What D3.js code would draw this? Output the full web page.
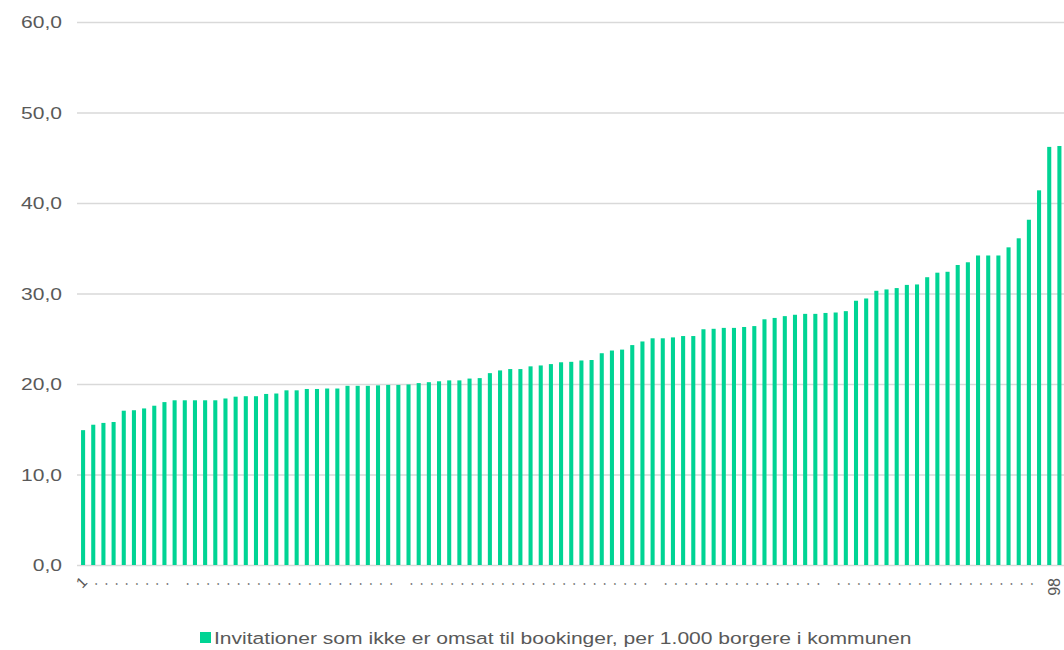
<!DOCTYPE html>
<html>
<head>
<meta charset="utf-8">
<script src="https://cdn.jsdelivr.net/npm/d3@7"></script>
<style>
  body { margin: 0; background: #fff; }
  text { font-family: "Liberation Sans", Arial, sans-serif; fill: #595959; }
</style>
</head>
<body>
<script>
// kommuner sorted by value, rank 1..98 (the last bar falls just outside the picture)
const categories = d3.range(1, 99);
const values = [
  14.9, 15.5, 15.7, 15.8, 17.05, 17.1, 17.3, 17.6, 18.0, 18.2,
  18.2, 18.2, 18.2, 18.2, 18.4, 18.6, 18.65, 18.65, 18.9, 18.95,
  19.3, 19.3, 19.45, 19.45, 19.5, 19.5, 19.8, 19.8, 19.8, 19.85,
  19.9, 19.9, 19.95, 20.1, 20.2, 20.3, 20.4, 20.4, 20.6, 20.65,
  21.2, 21.5, 21.65, 21.65, 21.95, 22.05, 22.2, 22.4, 22.45, 22.6,
  22.65, 23.4, 23.7, 23.8, 24.3, 24.7, 25.05, 25.05, 25.15, 25.3,
  25.3, 26.05, 26.1, 26.2, 26.2, 26.3, 26.4, 27.15, 27.3, 27.5,
  27.65, 27.75, 27.75, 27.85, 27.9, 28.05, 29.2, 29.45, 30.3, 30.45,
  30.6, 30.95, 31.0, 31.8, 32.3, 32.4, 33.15, 33.45, 34.2, 34.2,
  34.2, 35.1, 36.1, 38.15, 41.4, 46.2, 46.3, 46.8
];
const blankLabels = [10, 32, 57, 74, 95, 97];
const yTicks = [0, 10, 20, 30, 40, 50, 60];
const yTickLabels = ["0,0", "10,0", "20,0", "30,0", "40,0", "50,0", "60,0"];
const seriesName = "Invitationer som ikke er omsat til bookinger, per 1.000 borgere i kommunen";

const width = 1064;
const height = 650;
const stretch = 1.24; // text in the original is drawn wider than normal
const color = "#00d494";

const svg = d3.select("body").append("svg")
  .attr("width", width)
  .attr("height", height);

const x = d3.scaleBand()
  .domain(categories)
  .range([78, 78 + categories.length * 10.17])
  .paddingInner(0.6)
  .paddingOuter(0.3);

const y = d3.scaleLinear()
  .domain([0, 60])
  .range([565, 22]);

// grid
svg.append("g")
  .selectAll("line")
  .data(yTicks)
  .join("line")
  .attr("x1", 77)
  .attr("x2", x.range()[1])
  .attr("y1", d => y(d) + 0.5)
  .attr("y2", d => y(d) + 0.5)
  .attr("stroke", "#d9d9d9")
  .attr("stroke-width", 1.3);

// y labels
svg.append("g")
  .selectAll("g")
  .data(yTicks)
  .join("g")
  .attr("transform", d => `translate(62, ${y(d)})`)
  .append("text")
  .attr("transform", `scale(${stretch},1)`)
  .attr("text-anchor", "end")
  .attr("dy", "0.36em")
  .style("font-size", "17px")
  .text((d, i) => yTickLabels[i]);

// bars
svg.append("g")
  .selectAll("rect")
  .data(values)
  .join("rect")
  .attr("x", (d, i) => x(categories[i]))
  .attr("width", x.bandwidth())
  .attr("y", d => y(d))
  .attr("height", d => y(0) - y(d))
  .attr("fill", color);

// category labels
const last = categories[categories.length - 1];
const tickLabel = r => (r === 1 || r === last) ? String(r)
  : blankLabels.includes(r) ? "" : ".";

svg.append("g")
  .selectAll("text")
  .data(categories)
  .join("text")
  .attr("transform", d => d === last
    ? `translate(${x(d) + x.bandwidth() / 2 - 10}, 578) rotate(-90)`
    : `translate(${x(d) + x.bandwidth() / 2 + 5}, 583) rotate(-45)`)
  .attr("text-anchor", "end")
  .style("font-size", d => d === last ? "16px" : "15px")
  .text(tickLabel);

// legend
svg.append("rect")
  .attr("x", 200)
  .attr("y", 632)
  .attr("width", 11)
  .attr("height", 11)
  .attr("fill", color);

svg.append("g")
  .attr("transform", "translate(214, 644)")
  .append("text")
  .attr("transform", `scale(${stretch},1)`)
  .style("font-size", "17px")
  .text(seriesName);
</script>
</body>
</html>
